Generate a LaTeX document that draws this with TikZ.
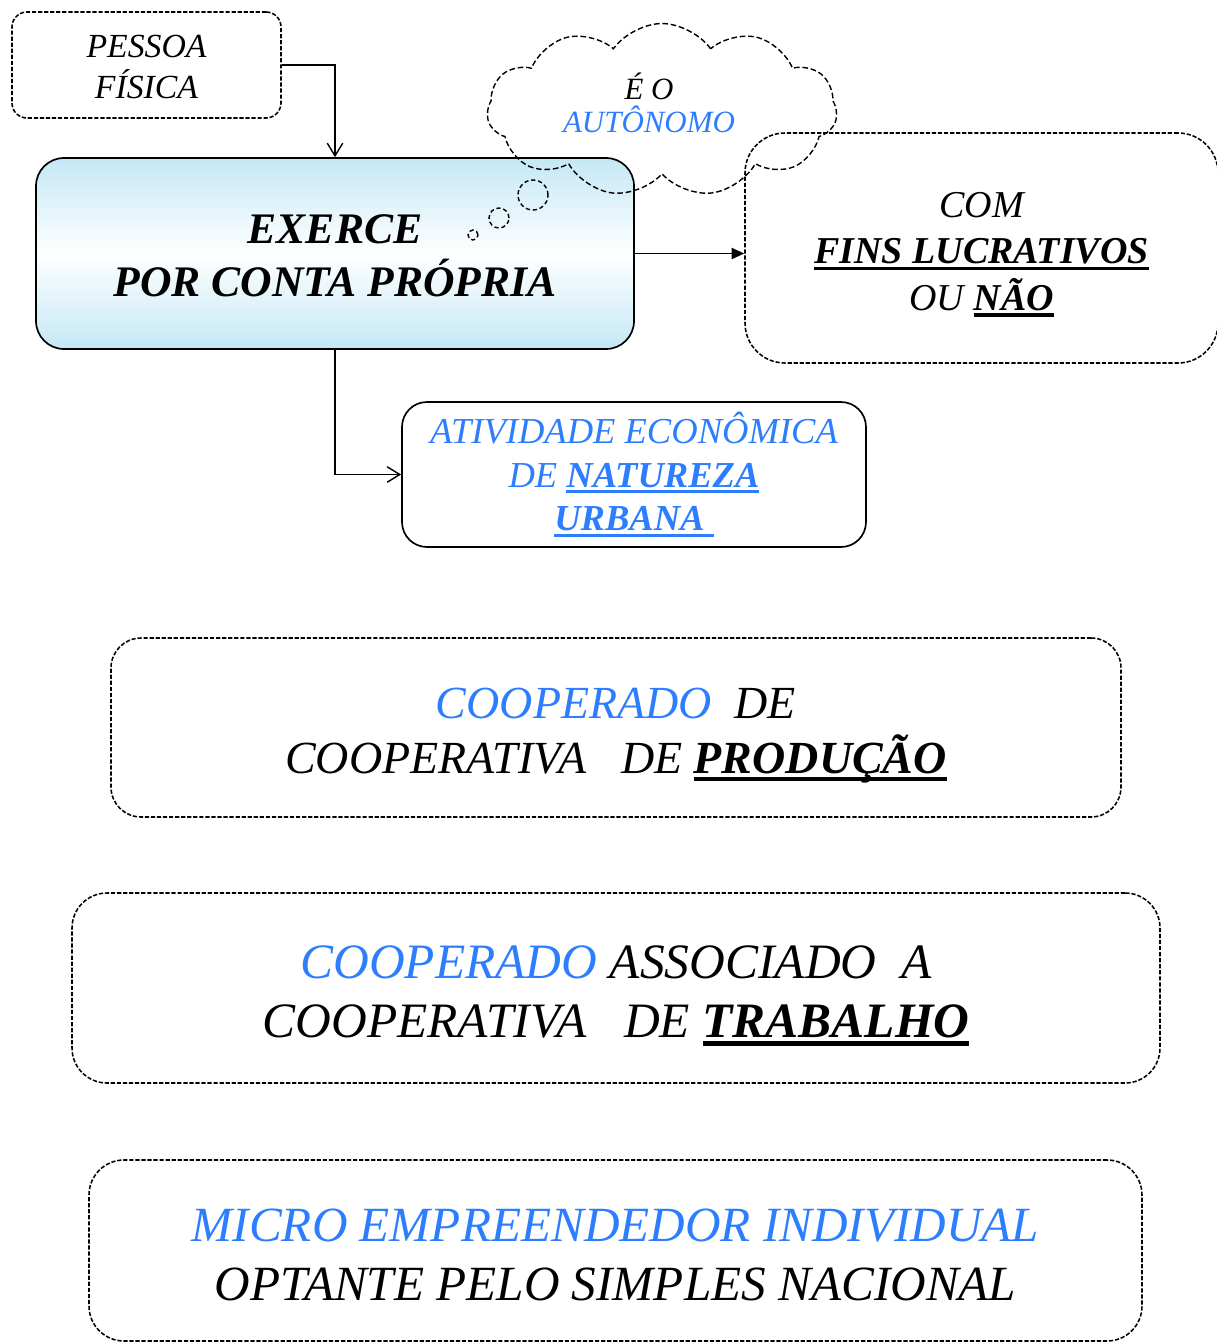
\documentclass[tikz,border=0pt]{standalone}
\usepackage{fontspec}
\setmainfont{Liberation Serif}
\usetikzlibrary{shapes.symbols,arrows.meta}

\definecolor{azul}{RGB}{45,125,255}
\definecolor{celeste}{RGB}{196,232,245}

\newdimen\px \px=0.025cm
% sublinhado grosso, sempre na mesma altura
\newcommand{\grifo}[1]{\setbox0\hbox{#1}\rlap{\rule[-0.17em]{\wd0}{0.09em}}\box0}
% empurra o texto para baixo dentro da caixa
\newcommand{\alto}[1]{\rule{0pt}{#1}}

\tikzset{
  caixa/.style={draw, rounded corners=#1, line width=1.2pt, align=center, inner sep=0pt},
  tracejada/.style={caixa=#1, line width=1.1pt, dash pattern=on 3pt off 1.3pt},
  seta/.style={draw, line width=1pt, -{Straight Barb[length=9pt,width=11pt]}},
}

\begin{document}
\begin{tikzpicture}[x=\px, y=-\px]
    \clip (0,0) rectangle (1217,1342);

    % Caixas de cima
    \node[tracejada=15\px, minimum width=269\px, minimum height=106\px,
          font=\itshape\fontsize{24}{29}\selectfont] (pessoa) at (146.5,65) {\alto{0.8em}PESSOA\\FÍSICA};
    \node[caixa=28\px, top color=celeste, bottom color=celeste, middle color=white,
          minimum width=598\px, minimum height=191\px,
          font=\bfseries\itshape\fontsize{31}{38}\selectfont] (exerce) at (335,253.5) {\alto{0.77em}EXERCE\\POR CONTA PRÓPRIA};
    \node[tracejada=40\px, minimum width=473\px, minimum height=230\px,
          font=\itshape\fontsize{27}{33}\selectfont] (com) at (981.5,248)
          {\alto{1em}COM\\\textbf{\grifo{FINS LUCRATIVOS}}\\OU \textbf{\grifo{NÃO}}};
    \node[caixa=25\px, minimum width=464\px, minimum height=145\px, text=azul,
          font=\itshape\fontsize{26}{31}\selectfont] (atividade) at (634,474.5)
          {ATIVIDADE ECONÔMICA\\DE \textbf{\grifo{NATUREZA}}\\\textbf{\grifo{URBANA\ }}};

    % Nuvem
    \node[cloud, cloud puffs=11, cloud puff arc=110, cloud ignores aspect, draw, line width=1pt,
          dash pattern=on 4pt off 2pt, minimum width=350\px, minimum height=173\px] (nuvem) at (662,110) {};
    \node[align=center, font=\itshape\fontsize{22}{24}\selectfont] (autonomo) at (649,103)
          {É O\\\textcolor{azul}{AUTÔNOMO}};
    \foreach \x/\y/\r [count=\i] in {533/195/15, 499/218/10, 473/235/5}
        \node[circle, draw, line width=1pt, dash pattern=on 3pt off 2pt, inner sep=0pt,
              minimum size={2*\r\px}] (bolha\i) at (\x,\y) {};

    % Setas
    \draw[seta] (pessoa.east) -| (exerce.north);
    \draw[line width=1pt, -{Triangle[length=9pt,width=8pt]}] (exerce.east) -- (exerce.east -| com.west);
    \draw[seta] (exerce.south) |- (atividade.west);

    % Caixas de baixo
    \node[tracejada=30\px, minimum width=1010\px, minimum height=179\px,
          font=\itshape\fontsize{32.7}{39}\selectfont] (coop1) at (616,727.5)
          {\alto{1em}\textcolor{azul}{COOPERADO}\ \ DE\\COOPERATIVA\ \ \ DE \textbf{\grifo{PRODUÇÃO}}};
    \node[tracejada=35\px, minimum width=1088\px, minimum height=190\px,
          font=\itshape\fontsize{35.2}{42}\selectfont] (coop2) at (616,988)
          {\alto{0.97em}\textcolor{azul}{COOPERADO} ASSOCIADO\ \ A\\COOPERATIVA\ \ \ DE \textbf{\grifo{TRABALHO}}};
    \node[tracejada=35\px, minimum width=1053\px, minimum height=181\px,
          font=\itshape\fontsize{35}{42}\selectfont] (mei) at (615.5,1250.5)
          {\alto{0.84em}\textcolor{azul}{MICRO EMPREENDEDOR INDIVIDUAL}\\OPTANTE PELO SIMPLES NACIONAL};
\end{tikzpicture}
\end{document}
